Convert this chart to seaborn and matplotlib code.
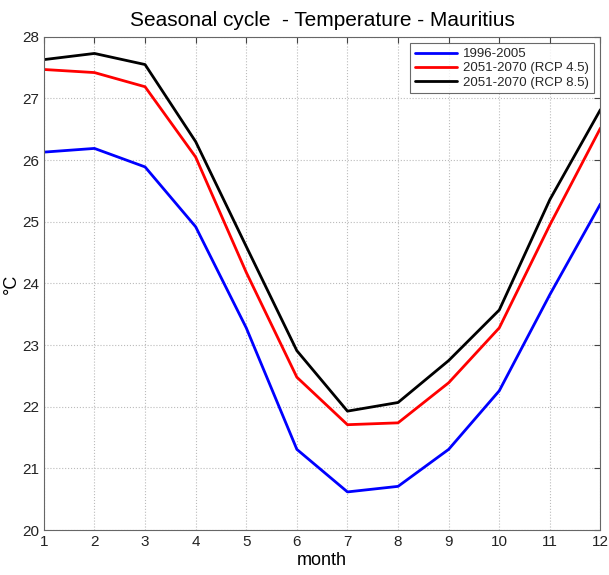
import numpy as np
import pandas as pd
import matplotlib
matplotlib.use("Agg")
import matplotlib.pyplot as plt
import seaborn as sns

sns.set_style("white")
plt.rcParams['font.family'] = ['Liberation Sans', 'DejaVu Sans']

# monthly mean temperature (degC)
months = list(range(1, 13))
temp_hist = [26.13, 26.19, 25.89, 24.92, 23.28, 21.31, 20.62, 20.71, 21.31, 22.26, 23.82, 25.29]
temp_rcp45 = [27.47, 27.42, 27.19, 26.05, 24.18, 22.48, 21.71, 21.74, 22.39, 23.28, 24.95, 26.52]
temp_rcp85 = [27.63, 27.73, 27.55, 26.30, 24.60, 22.91, 21.93, 22.07, 22.75, 23.57, 25.36, 26.82]
labels = ['1996-2005', '2051-2070 (RCP 4.5)', '2051-2070 (RCP 8.5)']
colors = ['#0000ff', '#ff0000', '#000000']

df = pd.DataFrame({
    'month': months * 3,
    'temp': temp_hist + temp_rcp45 + temp_rcp85,
    'period': [labels[0]] * 12 + [labels[1]] * 12 + [labels[2]] * 12,
})

fig = plt.figure(figsize=(6.09, 5.75), dpi=100)
ax = fig.add_axes([0.072, 0.078, 0.914, 0.858])

sns.lineplot(data=df, x='month', y='temp', hue='period', palette=colors,
             linewidth=2, ax=ax)

ax.set_xlim(1, 12)
ax.set_ylim(20, 28)
ax.set_xticks(months)
ax.set_yticks(range(20, 29))
ax.grid(True, linestyle=':', color='#bbbbbb', linewidth=0.8)
ax.tick_params(direction='in', top=True, right=True, length=4,
               labelsize=11, color='#444444', labelcolor='#222222')
for s in ax.spines.values():
    s.set_color('#666666')

ax.set_xlabel('month', fontsize=13, color='black', labelpad=2)
ax.set_ylabel('°C', fontsize=13, color='black')
ax.yaxis.set_label_coords(-0.043, 0.5)
ax.set_title('Seasonal cycle  - Temperature - Mauritius', fontsize=15,
             color='black', pad=8)

leg = ax.legend(loc='upper right', fontsize=9.5, frameon=True, fancybox=False,
                edgecolor='#444444', handlelength=3.2, labelspacing=0.15,
                borderpad=0.35, handletextpad=0.5, borderaxespad=0.5)
leg.get_frame().set_linewidth(0.8)

fig.savefig('out.png', dpi=100)
